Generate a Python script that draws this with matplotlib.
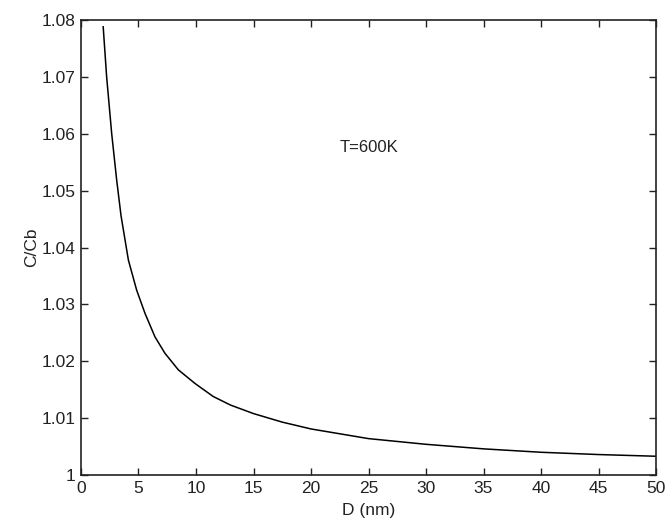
import matplotlib
matplotlib.use("Agg")
import matplotlib.pyplot as plt

# Particle diameter (nm) and normalized concentration C/Cb
diameter_nm = [1.93, 2.23, 2.67, 3.10, 3.48, 4.12, 4.84, 5.57, 6.43, 7.30, 8.46,
               9.91, 11.5, 13.0, 15.0, 17.5, 20.0, 25.0, 30.0, 35.0, 40.0, 45.0, 50.0]
c_ratio = [1.0788, 1.0700, 1.0600, 1.0519, 1.0456, 1.0378, 1.0325, 1.0284, 1.0243,
           1.0214, 1.0185, 1.0161, 1.0138, 1.0123, 1.0108, 1.0093, 1.0081, 1.0064,
           1.0054, 1.0046, 1.0040, 1.0036, 1.0033]

x_ticks = [0, 5, 10, 15, 20, 25, 30, 35, 40, 45, 50]
y_ticks = [1.0, 1.01, 1.02, 1.03, 1.04, 1.05, 1.06, 1.07, 1.08]
y_tick_labels = ["1", "1.01", "1.02", "1.03", "1.04", "1.05", "1.06", "1.07", "1.08"]

plt.rcParams["font.family"] = ["Liberation Sans", "DejaVu Sans"]

fig = plt.figure(figsize=(6.65, 5.22), dpi=100)
ax = fig.add_axes([0.1218, 0.090, 0.8647, 0.8717])

ax.plot(diameter_nm, c_ratio, color="black", linewidth=1.1)

ax.set_xlim(0, 50)
ax.set_ylim(1.0, 1.08)
ax.set_xticks(x_ticks)
ax.set_xticklabels([str(t) for t in x_ticks])
ax.set_yticks(y_ticks)
ax.set_yticklabels(y_tick_labels)

ax.tick_params(direction="in", length=5, width=1, top=True, right=True,
               labelsize=12.5, colors="#222222", pad=4)
for side in ax.spines.values():
    side.set_linewidth(1.2)
    side.set_color("#222222")

ax.set_xlabel("D (nm)", fontsize=12.5, color="#222222", labelpad=5)
ax.set_ylabel("C/Cb", fontsize=12.5, color="#222222", labelpad=2)

ax.text(22.5, 1.0575, "T=600K", fontsize=12, color="#222222", va="center", ha="left")

fig.savefig("out.png", dpi=100)
